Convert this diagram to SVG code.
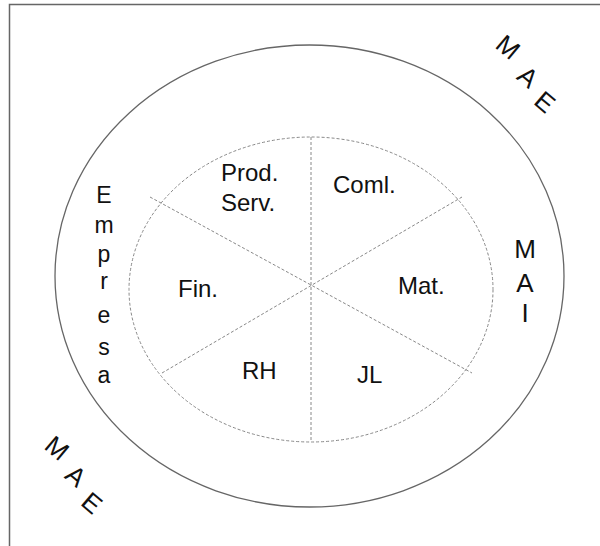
<svg xmlns="http://www.w3.org/2000/svg" width="600" height="546" viewBox="0 0 600 546">
<style>
.t{font-family:"Liberation Sans",Arial,sans-serif;font-size:24px;fill:#111}
.s{font-family:"Liberation Sans",Arial,sans-serif;font-size:23px;fill:#111;text-anchor:middle}
.m{font-family:"Liberation Sans",Arial,sans-serif;font-size:26px;fill:#111;text-anchor:middle}
.d{fill:none;stroke:#888;stroke-width:1;stroke-dasharray:3,2}
</style>
<rect x="9.5" y="4.5" width="620" height="580" fill="#fff" stroke="#666" stroke-width="1.5"/>
<g id="outer">
<ellipse cx="309.5" cy="276" rx="254.5" ry="231" fill="none" stroke="#666" stroke-width="1.3"/>
</g>
<g id="inner">
<ellipse cx="311" cy="289.5" rx="182" ry="152.5" class="d"/>
</g>
<g id="connectors">
<line x1="311" y1="137" x2="311" y2="442" class="d"/>
<line x1="150" y1="197" x2="472" y2="373" class="d"/>
<line x1="162" y1="373" x2="462" y2="197" class="d"/>
</g>
<g id="prod"><text class="t" x="221" y="181">Prod.</text><text class="t" x="221" y="211">Serv.</text></g>
<g id="coml"><text class="t" x="333" y="193">Coml.</text></g>
<g id="fin"><text class="t" x="178" y="297">Fin.</text></g>
<g id="mat"><text class="t" x="398" y="294">Mat.</text></g>
<g id="rh"><text class="t" x="242" y="379">RH</text></g>
<g id="jl"><text class="t" x="357" y="383">JL</text></g>
<g id="empresa">
<text class="s" x="104" y="203">E</text>
<text class="s" x="104" y="233">m</text>
<text class="s" x="104" y="262">p</text>
<text class="s" x="104" y="289">r</text>
<text class="s" x="104" y="323">e</text>
<text class="s" x="104" y="355">s</text>
<text class="s" x="104" y="383">a</text>
</g>
<g id="mai">
<text class="m" x="525" y="258">M</text>
<text class="m" x="525" y="292">A</text>
<text class="m" x="525" y="322">I</text>
</g>
<g id="mae-top">
<text class="m" transform="translate(508,47) rotate(40)" y="9">M</text>
<text class="m" transform="translate(528,77) rotate(40)" y="9">A</text>
<text class="m" transform="translate(545,102) rotate(40)" y="9">E</text>
</g>
<g id="mae-bottom">
<text class="m" transform="translate(57,448) rotate(40)" y="9">M</text>
<text class="m" transform="translate(76,476) rotate(40)" y="9">A</text>
<text class="m" transform="translate(92,503) rotate(40)" y="9">E</text>
</g>
</svg>
